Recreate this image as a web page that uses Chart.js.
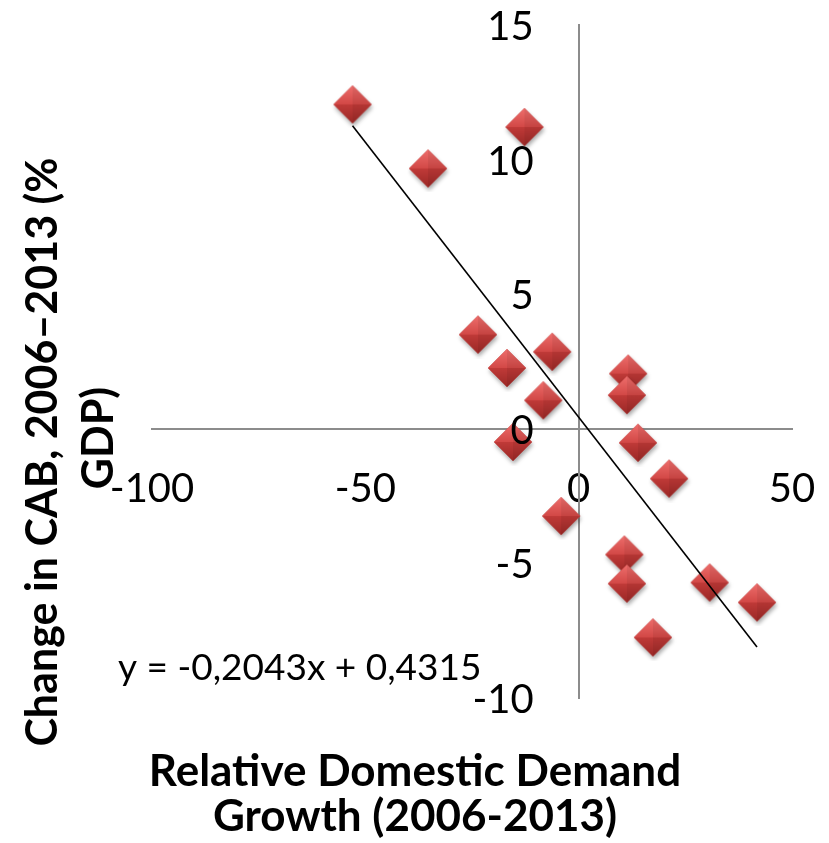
<!DOCTYPE html>
<html><head><meta charset="utf-8">
<script src="https://cdn.jsdelivr.net/npm/chart.js@4.4.1/dist/chart.umd.min.js"></script>
<style>html,body{margin:0;padding:0;background:#fff;} #wrap{width:829px;height:843px;}</style>
</head><body><div id="wrap"><canvas id="c" width="829" height="843"></canvas></div>
<script>
// ---- data ----
const xValues = [-53.0, -12.7, -35.3, -23.6, -6.2, -16.8, -8.3, -15.4, 11.6, 11.3, 13.9, 21.2, -4.1, 10.7, 11.3, 30.7, 41.8, 17.4];
const yValues = [12.05, 11.21, 9.67, 3.50, 2.86, 2.26, 1.06, -0.49, 2.05, 1.25, -0.52, -1.85, -3.24, -4.67, -5.75, -5.71, -6.45, -7.75];
const xTicks = [-100, -50, 0, 50];
const yTicks = [-10, -5, 0, 5, 10, 15];
const trendSlope = -0.2043;
const trendIntercept = 0.4315;
const xTitle = ['Relative Domestic Demand', 'Growth (2006-2013)'];
const yTitle = ['Change in CAB, 2006\u20132013 (%', 'GDP)'];

const points = xValues.map((x, i) => ({x: x, y: yValues[i]}));
const xMin = Math.min.apply(null, xValues), xMax = Math.max.apply(null, xValues);
const trendPoints = [xMin, xMax].map(x => ({x: x, y: trendSlope * x + trendIntercept}));
const fmt = v => String(v).replace('.', ',');
const equation = 'y = ' + fmt(trendSlope) + 'x + ' + fmt(trendIntercept);

// 3D-looking diamond marker
function makeDiamond(r) {
  const s = 2 * r + 10, c = document.createElement('canvas');
  c.width = s; c.height = s;
  const g = c.getContext('2d'), cx = s / 2, cy = s / 2;
  g.save();
  g.shadowColor = 'rgba(0,0,0,0.35)'; g.shadowBlur = 4; g.shadowOffsetX = 1; g.shadowOffsetY = 3;
  g.beginPath(); g.moveTo(cx, cy - r); g.lineTo(cx + r, cy); g.lineTo(cx, cy + r); g.lineTo(cx - r, cy); g.closePath();
  g.fillStyle = '#BE3F3D'; g.fill();
  g.restore();
  const top = g.createLinearGradient(0, cy - r, 0, cy);
  top.addColorStop(0, '#EE6E6C'); top.addColorStop(1, '#D24846');
  g.beginPath(); g.moveTo(cx - r, cy); g.lineTo(cx, cy - r); g.lineTo(cx + r, cy); g.closePath();
  g.fillStyle = top; g.fill();
  const bot = g.createLinearGradient(0, cy, 0, cy + r);
  bot.addColorStop(0, '#C03A38'); bot.addColorStop(1, '#9A2826');
  g.beginPath(); g.moveTo(cx - r, cy); g.lineTo(cx + r, cy); g.lineTo(cx, cy + r); g.closePath();
  g.fillStyle = bot; g.fill();
  g.beginPath(); g.moveTo(cx, cy - r); g.lineTo(cx + r, cy); g.lineTo(cx, cy + r); g.closePath();
  g.fillStyle = 'rgba(0,0,0,0.06)'; g.fill();
  return c;
}
const diamond = makeDiamond(19);

const labelsPlugin = {
  id: 'labels',
  afterDraw(chart) {
    const ctx = chart.ctx, xs = chart.scales.x, ys = chart.scales.y;
    const x0 = xs.getPixelForValue(0);
    ctx.save();
    ctx.fillStyle = '#000';
    // y tick labels, right-aligned left of the vertical axis
    ctx.font = '40px Lato';
    ctx.textAlign = 'right';
    ctx.textBaseline = 'middle';
    yTicks.forEach(v => ctx.fillText(String(v), x0 - 45, ys.getPixelForValue(v) + 2));
    // axis titles
    ctx.textAlign = 'center';
    ctx.textBaseline = 'alphabetic';
    ctx.font = 'bold 44px Lato';
    ctx.fillText(xTitle[0], 415, 786);
    ctx.fillText(xTitle[1], 415, 831);
    ctx.save();
    ctx.rotate(-Math.PI / 2);
    ctx.font = 'bold 43px Lato';
    ctx.fillText(yTitle[0], -452, 57);
    ctx.fillText(yTitle[1], -438, 113);
    ctx.restore();
    // trendline equation
    ctx.font = '37px Lato';
    ctx.textAlign = 'left';
    ctx.fillText(equation, 118, 680);
    ctx.restore();
  }
};

new Chart(document.getElementById('c'), {
  type: 'scatter',
  data: {
    datasets: [
      {
        label: 'Trend',
        data: trendPoints,
        showLine: true,
        borderColor: '#000',
        borderWidth: 1.6,
        pointRadius: 0,
        pointHoverRadius: 0,
        fill: false
      },
      {
        label: 'Data',
        data: points,
        pointStyle: diamond,
        pointRadius: 19,
        pointHoverRadius: 19
      }
    ]
  },
  options: {
    responsive: false,
    animation: false,
    events: [],
    layout: {padding: {left: 152, top: 25, right: 37, bottom: 145}},
    plugins: {legend: {display: false}, tooltip: {enabled: false}, title: {display: false}},
    scales: {
      x: {
        type: 'linear',
        position: {y: 0},
        min: xTicks[0], max: xTicks[xTicks.length - 1],
        afterBuildTicks: s => { s.ticks = xTicks.map(v => ({value: v})); },
        afterFit: s => { s.height = 0; s.paddingLeft = 0; s.paddingRight = 0; s.paddingTop = 0; s.paddingBottom = 0; },
        grid: {display: false, drawTicks: false},
        border: {display: true, color: '#8C8C8C', width: 2},
        ticks: {color: '#000', font: {family: 'Lato', size: 40}, padding: 36, maxRotation: 0, autoSkip: false}
      },
      y: {
        type: 'linear',
        position: {x: 0},
        min: yTicks[0], max: yTicks[yTicks.length - 1],
        afterBuildTicks: s => { s.ticks = yTicks.map(v => ({value: v})); },
        afterFit: s => { s.width = 0; s.paddingLeft = 0; s.paddingRight = 0; s.paddingTop = 0; s.paddingBottom = 0; },
        grid: {display: false, drawTicks: false},
        border: {display: true, color: '#8C8C8C', width: 2},
        ticks: {display: false}
      }
    }
  },
  plugins: [labelsPlugin]
});
</script></body></html>
